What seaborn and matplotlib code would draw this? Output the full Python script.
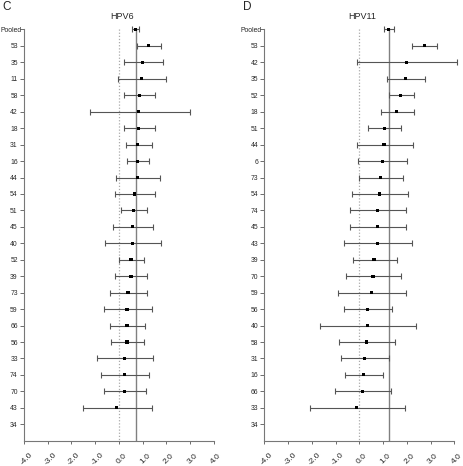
import numpy as np
import pandas as pd
import matplotlib
matplotlib.use("Agg")
import matplotlib.pyplot as plt
import matplotlib.transforms as mtransforms
import seaborn as sns

# HPV6 panel
hpv6_types = ["Pooled", "53", "35", "11", "58", "42", "18", "31", "16", "44", "54", "51",
              "45", "40", "52", "39", "73", "59", "66", "56", "33", "74", "70", "43", "34"]
hpv6_est = [0.68, 1.24, 1.01, 0.94, 0.86, 0.83, 0.83, 0.80, 0.77, 0.77, 0.67, 0.62,
            0.58, 0.56, 0.51, 0.51, 0.38, 0.34, 0.34, 0.34, 0.22, 0.22, 0.22, -0.10, np.nan]
hpv6_lo = [0.55, 0.74, 0.22, -0.06, 0.22, -1.21, 0.22, 0.28, 0.36, -0.11, -0.15, 0.10,
           -0.24, -0.60, 0.01, -0.15, -0.36, -0.65, -0.36, -0.34, -0.91, -0.77, -0.65, -1.50, np.nan]
hpv6_hi = [0.86, 1.78, 1.84, 1.99, 1.53, 2.98, 1.50, 1.40, 1.26, 1.74, 1.54, 1.19,
           1.45, 1.78, 1.07, 1.19, 1.19, 1.40, 1.11, 1.05, 1.43, 1.28, 1.15, 1.38, np.nan]
hpv6_pooled = 0.70

# HPV11 panel
hpv11_types = ["Pooled", "53", "42", "35", "52", "18", "51", "44", "6", "73", "54", "74",
               "45", "43", "39", "70", "59", "56", "40", "58", "31", "16", "66", "33", "34"]
hpv11_est = [1.22, 2.73, 2.00, 1.94, 1.74, 1.58, 1.05, 1.04, 0.96, 0.91, 0.84, 0.76,
             0.76, 0.76, 0.62, 0.58, 0.52, 0.34, 0.35, 0.31, 0.21, 0.18, 0.13, -0.10, np.nan]
hpv11_lo = [1.03, 2.22, -0.08, 1.15, 1.24, 0.90, 0.38, -0.11, -0.06, 0.00, -0.31, -0.38,
            -0.38, -0.63, -0.27, -0.58, -0.89, -0.65, -1.65, -0.84, -0.79, -0.59, -1.01, -2.07, np.nan]
hpv11_hi = [1.46, 3.29, 4.13, 2.78, 2.32, 2.32, 1.77, 2.25, 2.03, 1.86, 2.07, 1.97,
            1.97, 2.22, 1.60, 1.77, 1.97, 1.39, 2.38, 1.52, 1.27, 1.01, 1.34, 1.94, np.nan]
hpv11_pooled = 1.27

x_ticks = [-4.0, -3.0, -2.0, -1.0, 0.0, 1.0, 2.0, 3.0, 4.0]

sns.set_style("white")
plt.rcParams['font.family'] = ['Liberation Sans', 'DejaVu Sans']

fig = plt.figure(figsize=(4.63, 4.66), dpi=100)
ax_c = fig.add_axes([0.0518, 0.0543, 0.423, 0.893])
ax_d = fig.add_axes([0.5709, 0.0543, 0.423, 0.893])

panels = [
    (ax_c, "C", "HPV6", hpv6_types, hpv6_est, hpv6_lo, hpv6_hi, hpv6_pooled),
    (ax_d, "D", "HPV11", hpv11_types, hpv11_est, hpv11_lo, hpv11_hi, hpv11_pooled),
]

for ax, letter, title, types, est, lo, hi, pooled in panels:
    df = pd.DataFrame({"type": types, "est": est, "lo": lo, "hi": hi})
    df["pos"] = np.arange(len(df))
    d = df.dropna()
    n = len(df)

    ax.vlines(0, 0, n, color="#aaaaaa", lw=0.9, ls=(0, (1, 1.5)), zorder=1)
    ax.vlines(pooled, -0.1, n, color="#808080", lw=1.0, zorder=1)
    ax.errorbar(d["est"], d["pos"], xerr=[d["est"] - d["lo"], d["hi"] - d["est"]],
                fmt="none", ecolor="#555555", elinewidth=0.8, capsize=2.2,
                capthick=0.8, clip_on=False, zorder=2)
    sns.scatterplot(data=d, x="est", y="pos", marker="s", s=5, color="black",
                    edgecolor="none", ax=ax, zorder=3, clip_on=False)

    ax.set_xlim(-4, 4.25)
    ax.set_ylim(n, -0.3)
    ax.set_yticks(df["pos"])
    ax.set_yticklabels(df["type"], fontsize=4.9)
    ax.set_xticks(x_ticks)
    ax.set_xticklabels([f"{v:.1f}" for v in x_ticks], fontsize=6,
                       rotation=45, ha="center", va="top", rotation_mode="anchor")
    ax.set_xlabel("")
    ax.set_ylabel("")
    ax.tick_params(axis="y", length=3, width=0.6, color="#555555", pad=1.5, left=True)
    ax.tick_params(axis="x", length=2.4, width=0.6, color="#555555", pad=8.6, bottom=True)
    # the "Pooled" label sits right against the axis line
    pooled_lab = ax.get_yticklabels()[0]
    pooled_lab.set_transform(pooled_lab.get_transform() +
                             mtransforms.ScaledTranslation(4 / 100, 0, fig.dpi_scale_trans))
    for s in ["top", "right"]:
        ax.spines[s].set_visible(False)
    ax.spines["left"].set_bounds(0, n)
    ax.spines["bottom"].set_bounds(-4, 4)
    for s in ["left", "bottom"]:
        ax.spines[s].set_color("#777777")
        ax.spines[s].set_linewidth(0.8)
    ax.set_title(title, fontsize=6.5, pad=4)
    bb = ax.get_position()
    fig.text(bb.x0 - 0.047, 0.984, letter, fontsize=8.5, va="center", ha="left")

fig.savefig("out.png", dpi=100)
